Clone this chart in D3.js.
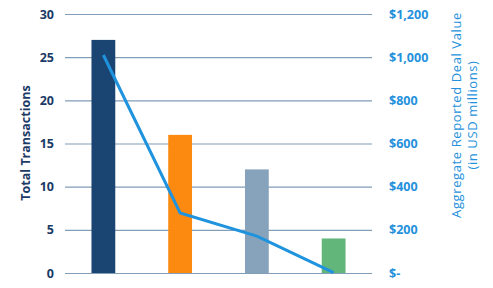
<!DOCTYPE html>
<html><head><meta charset="utf-8">
<script src="https://cdn.jsdelivr.net/npm/d3@7"></script>
<style>body{margin:0;background:#fff}svg{display:block}text{font-family:"Open Sans",sans-serif}</style>
</head><body><svg id="c" width="493" height="288"></svg>
<script>
const categories = ["A", "B", "C", "D"];
const transactions = [27, 16, 12, 4];
const dealValue = [1010, 278, 171, 2];
const barColors = ["#1a4472", "#fd8a10", "#87a3bb", "#63b67a"];
const leftTicks = [0, 5, 10, 15, 20, 25, 30];
const rightTicks = [0, 200, 400, 600, 800, 1000, 1200];

const svg = d3.select("#c");
const L = 65, R = 372, T = 14, B = 273;
const x = d3.scaleBand().domain(categories).range([L, R]).paddingInner(0.69).paddingOuter(0.345);
const yL = d3.scaleLinear().domain([0, 30]).range([B, T]);
const yR = d3.scaleLinear().domain([0, 1200]).range([B, T]);

// gridlines
svg.append("g").selectAll("line").data(leftTicks).join("line")
  .attr("x1", L).attr("x2", R)
  .attr("y1", d => yL(d) + 0.5).attr("y2", d => yL(d) + 0.5)
  .attr("stroke", "#829eb8").attr("stroke-width", 1.2);

// left axis
const axL = svg.append("g").attr("transform", `translate(${L},0)`)
  .call(d3.axisLeft(yL).tickValues(leftTicks).tickSize(0).tickPadding(11));
axL.select(".domain").remove();
axL.selectAll("text").attr("font-size", 12.5).attr("font-weight", "bold").attr("fill", "#1b3a66")
  .attr("font-family", "Open Sans");

// right axis
const axR = svg.append("g").attr("transform", `translate(${R},0)`)
  .call(d3.axisRight(yR).tickValues(rightTicks).tickSize(0).tickPadding(17)
    .tickFormat(d => d === 0 ? "$-" : "$" + d3.format(",")(d)));
axR.select(".domain").remove();
axR.selectAll("text").attr("font-size", 12.5).attr("font-weight", "bold").attr("fill", "#2591dc")
  .attr("font-family", "Open Sans");

// bars
svg.append("g").selectAll("rect").data(transactions).join("rect")
  .attr("x", (d, i) => x(categories[i]))
  .attr("width", x.bandwidth())
  .attr("y", d => yL(d))
  .attr("height", d => B - yL(d))
  .attr("fill", (d, i) => barColors[i]);

// line
const line = d3.line().x((d, i) => x(categories[i]) + x.bandwidth() / 2).y(d => yR(d));
svg.append("path").datum(dealValue).attr("d", line)
  .attr("fill", "none").attr("stroke", "#1f93dd").attr("stroke-width", 3);

// titles
svg.append("text").attr("transform", "translate(30,143) rotate(-90)")
  .attr("text-anchor", "middle").attr("font-size", 12.5).attr("font-weight", "bold")
  .attr("fill", "#1b3a66").text("Total Transactions");
const rt = svg.append("text").attr("transform", "translate(461,115) rotate(-90)")
  .attr("text-anchor", "middle").attr("font-size", 13).attr("letter-spacing", 0.6).attr("fill", "#2591dc");
rt.append("tspan").attr("x", 0).attr("dy", 0).text("Aggregate Reported Deal Value");
rt.append("tspan").attr("x", 0).attr("dy", 16).text("(in USD millions)");
</script></body></html>
